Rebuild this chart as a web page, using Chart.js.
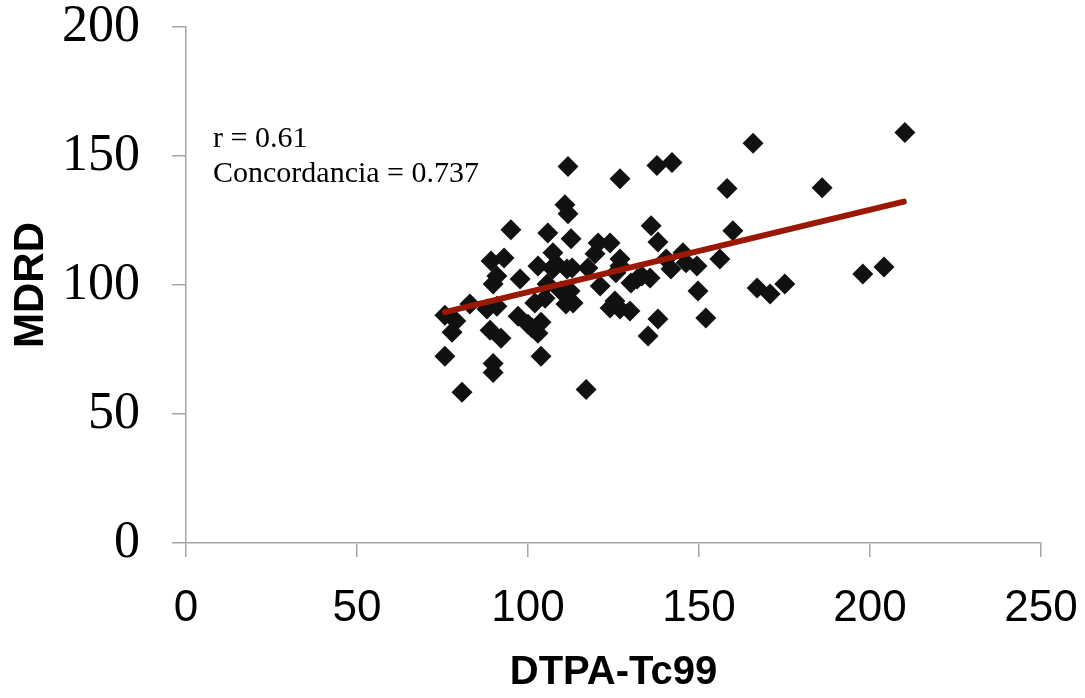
<!DOCTYPE html>
<html><head><meta charset="utf-8">
<script src="https://cdn.jsdelivr.net/npm/chart.js@4"></script>
<style>html,body{margin:0;padding:0;background:#fff}#c{display:block}</style>
</head><body>
<canvas id="c" width="1085" height="698"></canvas>
<script>
const xValues=[75.7,75.7,78.9,77.8,80.7,83.0,88.0,90.9,88.9,92.1,89.8,89.8,89.2,93.0,90.9,89.8,95.0,97.7,97.1,100.0,102.0,103.8,102.9,101.2,103.8,102.9,107.3,105.8,108.2,111.4,112.6,110.8,111.7,111.7,105.6,109.6,111.1,105.0,117.0,112.9,119.6,120.5,124.0,126.9,117.5,125.7,121.1,113.2,125.4,124.0,126.9,129.8,126.9,130.1,131.9,133.3,135.7,136.0,138.0,137.7,142.1,138.0,135.1,140.4,141.8,145.3,149.4,146.2,149.7,152.0,156.1,159.9,158.2,165.8,167.0,170.8,175.1,186.0,197.9,204.1,210.2,126.9,112.3,107.3];
const yValues=[72.4,88.3,86.0,81.7,58.4,92.6,90.7,91.8,82.5,79.4,69.6,66.1,109.3,110.5,103.5,100.4,121.4,102.3,87.9,84.8,93.0,85.6,81.3,83.3,72.4,107.4,112.5,120.2,108.2,106.2,117.9,131.1,127.6,145.9,100.4,97.7,92.6,94.9,59.5,106.6,112.1,116.3,116.3,110.1,106.6,104.7,99.6,93.0,93.8,91.1,90.7,89.9,141.2,100.8,102.3,103.5,102.7,123.0,116.7,146.3,147.5,86.8,80.2,110.1,106.2,112.5,107.4,108.6,97.7,87.2,110.1,121.0,137.4,154.9,98.8,96.5,100.4,137.7,104.3,107.0,159.1,107.4,97.7,106.2];
const trendX=[75.7,209.9];
const trendY=[89.5,132.3];
const annotationLines=["r = 0.61","Concordancia = 0.737"];
const xTitle="DTPA-Tc99";
const yTitle="MDRD";

const axisColor='#a6a6a6';
const annot={id:'annot',afterDraw(chart){
  const ctx=chart.ctx, a=chart.chartArea;
  ctx.save();
  ctx.font='30px "Liberation Serif"';
  ctx.fillStyle='#000';
  ctx.textBaseline='middle';
  ctx.textAlign='left';
  annotationLines.forEach((t,i)=>ctx.fillText(t,a.left+27,a.top+112+i*35));
  ctx.restore();
}};
new Chart(document.getElementById('c'),{
  type:'scatter',
  data:{datasets:[
    {type:'line',data:trendX.map((x,i)=>({x,y:trendY[i]})),borderColor:'#9a1906',borderWidth:6,pointRadius:0,borderCapStyle:'round',order:0,fill:false},
    {data:xValues.map((x,i)=>({x,y:yValues[i]})),backgroundColor:'#111111',borderWidth:0,pointStyle:'rectRot',pointRadius:10.5,pointHoverRadius:10.5,order:1}
  ]},
  options:{
    responsive:false,animation:false,devicePixelRatio:1,
    layout:{padding:{left:0,right:44,top:27,bottom:0}},
    plugins:{legend:{display:false},tooltip:{enabled:false}},
    scales:{
      x:{type:'linear',min:0,max:250,
        ticks:{stepSize:50,color:'#000',font:{family:'"Liberation Sans",sans-serif',size:44},padding:25,maxRotation:0},
        grid:{drawOnChartArea:false,drawTicks:true,tickLength:14,color:axisColor,lineWidth:1.5},
        border:{color:axisColor,width:1.5},
        title:{display:true,text:xTitle,color:'#000',font:{family:'"Liberation Sans",sans-serif',size:40,weight:'bold'},padding:{top:0,bottom:1}},
        afterFit:s=>{s.height=155;s.paddingLeft=0;s.paddingRight=0;}
      },
      y:{type:'linear',min:0,max:200,
        ticks:{stepSize:50,color:'#000',font:{family:'"Liberation Serif",serif',size:52,lineHeight:1},padding:32},
        grid:{drawOnChartArea:false,drawTicks:true,tickLength:14,color:axisColor,lineWidth:1.5},
        border:{color:axisColor,width:1.5},
        title:{display:true,text:yTitle,color:'#000',font:{family:'"Liberation Sans",sans-serif',size:42,weight:'bold'},padding:{top:6,bottom:0}},
        afterFit:s=>{s.width=186;s.paddingTop=0;s.paddingBottom=0;}
      }
    }
  },
  plugins:[annot]
});
</script>
</body></html>
